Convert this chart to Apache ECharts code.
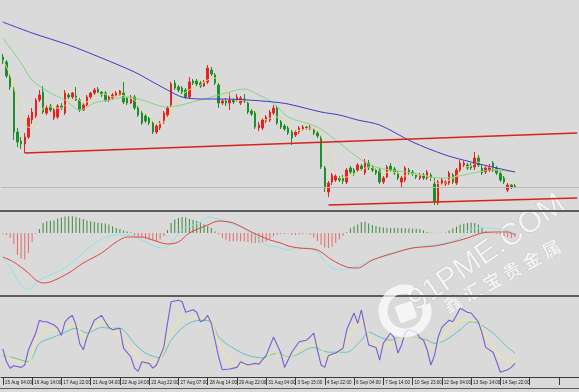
<!DOCTYPE html>
<html><head><meta charset="utf-8">
<script src="https://cdn.jsdelivr.net/npm/echarts/dist/echarts.min.js"></script>
<style>html,body{margin:0;padding:0;background:#dadada;}#c{width:579px;height:392px;}</style>
</head><body><div id="c"></div>
<script>
const tickLabels = ['15 Aug 04:00','16 Aug 14:00','17 Aug 22:00','21 Aug 04:00','22 Aug 14:00','23 Aug 22:00','27 Aug 07:00','28 Aug 14:00','29 Aug 22:00','31 Aug 04:00','3 Sep 15:00','4 Sep 22:00','6 Sep 04:00','7 Sep 14:00','10 Sep 23:00','12 Sep 04:00','13 Sep 14:00','14 Sep 22:00'];

const opens = [
243,238,224,212,168,159,156,163,180,184,
200,208,187,194,182,183,194,187,205,203,
204,200,190,195,203,207,211,208,207,200,
202,204,205,207,202,197,203,192,187,184,
182,177,168,172,178,185,195,217,213,212,
210,203,219,219,217,214,218,230,225,215,
197,199,197,200,200,197,201,197,189,187,
172,172,179,180,187,192,178,174,172,168,
165,168,171,173,171,170,167,163,132,108,
118,120,122,122,118,132,130,130,134,127,
137,133,130,130,118,123,134,131,127,118,
120,130,128,125,122,125,122,125,116,97,
117,116,117,125,117,130,135,135,135,133,
142,132,128,130,137,132,127,122,110,115,
114];
const closes = [
238,224,213,168,158,156,163,182,188,200,
205,188,192,190,190,194,192,207,203,207,
200,190,195,203,207,210,208,205,200,203,
205,207,209,198,197,203,192,185,177,179,
177,168,174,177,187,192,216,212,210,208,
203,218,217,216,214,218,232,226,217,197,
199,197,200,198,203,202,199,188,186,173,
175,180,183,188,192,177,173,171,167,162,
168,172,173,172,173,167,164,133,112,117,
125,124,120,119,130,128,126,135,131,138,
132,130,127,118,122,133,130,127,122,122,
132,127,126,123,125,122,128,122,98,118,
120,118,127,118,130,137,137,132,132,142,
135,127,132,133,130,127,120,118,115,113,
113];
const lows = [
236,222,210,160,153,151,147,161,176,182,
198,186,185,188,180,181,190,185,201,201,
199,188,189,194,201,205,207,203,198,198,
200,203,204,196,195,196,190,183,175,177,
175,166,166,170,176,183,193,210,208,206,
201,201,215,214,212,213,216,224,215,192,
195,194,190,196,198,195,197,186,184,171,
169,170,177,178,185,175,171,169,165,155,
163,166,169,170,170,165,162,131,108,103,
115,118,118,116,116,126,124,128,129,125,
130,128,125,116,116,122,128,125,120,113,
118,125,124,121,120,120,120,119,95,95,
115,114,115,116,115,128,133,130,130,130,
133,125,126,128,128,125,118,116,108,111,
112];
const highs = [
246,240,226,214,172,163,167,185,192,202,
210,214,195,196,192,196,197,210,207,208,
213,202,197,205,208,212,213,209,209,205,
207,209,210,218,204,205,205,194,189,186,
184,179,176,179,189,194,218,220,215,214,
212,223,221,221,219,220,235,233,227,217,
201,202,207,202,206,204,206,199,191,189,
178,182,185,190,195,194,180,176,174,170,
170,174,175,174,175,172,169,165,134,119,
127,126,124,125,132,134,132,137,136,141,
140,135,132,132,124,135,137,133,129,124,
134,132,130,127,127,127,130,127,122,120,
122,120,129,127,132,140,139,137,137,148,
145,135,134,136,139,134,129,124,117,116,
116];

const maLong = [[0,278],[8,267],[18,255],[27,242],[36,228],[40,220],[45,210],[49,203],[54,201],[60,201],[67,200],[74,198],[78,196],[87,188],[92,185],[97,180],[103,175],[112,158],[121,145],[128,138],[135,132],[140,128]];
const maMid = [[0,262],[5,237],[8,220],[13,207],[17,200],[21,190],[25,197],[29,200],[34,203],[38,200],[45,193],[54,200],[60,206],[66,211],[70,205],[74,197],[78,183],[86,173],[92,157],[98,140],[102,133],[106,130],[112,127],[117,123],[121,122],[126,125],[130,128],[134,130],[140,128]];
const maShort = [[0,240],[2,225],[4,200],[6,175],[8,172],[10,185],[12,195],[14,192],[16,192],[18,198],[20,202],[22,197],[24,200],[26,205],[28,206],[30,203],[32,205],[34,203],[36,200],[38,190],[40,183],[42,176],[44,178],[46,188],[48,200],[50,208],[52,212],[54,215],[56,220],[58,222],[60,215],[62,205],[64,199],[66,200],[68,195],[70,185],[72,180],[74,183],[76,183],[78,176],[80,169],[82,170],[84,172],[86,170],[88,155],[90,135],[92,122],[94,123],[96,126],[98,130],[100,133],[102,131],[104,127],[106,128],[108,127],[110,124],[112,126],[114,125],[116,124],[118,119],[120,115],[122,120],[124,124],[126,132],[128,134],[130,138],[132,134],[134,132],[136,128],[138,122],[140,116]];
const trendUpper = [[6,147],[157,167]];
const trendLower = [[89,95],[157,102]];

const macdHist = [
-1,-2,-5,-11,-22,-25.5,-26.5,-20,-9,-1,
4,10,11.7,12.3,12.5,14.5,15.5,16.5,16.7,16.7,
16,15,14,12.5,11.7,11.2,10.3,10,9.5,8.5,
6.8,5,4,2.5,1.5,0.5,-2.5,-3.8,-4.8,-6,
-6.7,-7.3,-8.3,-6.5,-3,3,10,13.5,15,16,
15.5,14,13,12,10.5,8.5,6.7,5,1.5,-1.5,
-5,-6.7,-8.3,-8.3,-8.3,-8.3,-8.5,-9,-10,-10,
-10,-9.3,-8.3,-6.3,-3.3,-1.7,-1,-1,-0.5,-1.7,
-1.7,-1.5,-1,-0.5,-1.7,-4.5,-8,-12,-14.5,-15,
-13.5,-10,-6.5,-2.7,0.8,4.7,6.7,8.5,11,11.2,
9.5,8,7,6,5.5,5.3,5,5,4.7,4.8,
4.8,4.5,4.2,4.2,4,2.8,1,0.3,-0.3,0.3,
0.3,0.5,2.5,4.5,6.5,8.3,9.3,10,10.5,10,
8.5,5.5,2,0.5,-0.5,-1,-1.5,-3,-4,-5,
-4];
const macdMain = [[0,-24],[2,-34],[4,-47],[6,-55],[7,-57],[8,-55],[10,-47],[13,-42],[17,-35],[22,-20],[26,-8],[31,-2],[35,-2],[38,-7],[42,-14],[44,-15],[46,-10],[49,3],[54,11],[56,16],[58,15],[61,11],[65,6],[68,0],[72,-12],[75,-14],[78,-17],[80,-15],[83,-15],[86,-19],[88,-29],[90,-35],[93,-37],[95,-35],[100,-29],[106,-20],[112,-15],[117,-12],[121,-10],[125,-5],[128,4],[133,5],[137,3],[140,0]];
const macdSignal = [[0,-24],[3,-29],[7,-40],[9,-47],[11,-50],[13,-49],[18,-40],[22,-30],[27,-20],[31,-9],[34,-4],[38,-4],[41,-7],[45,-11],[48,-9],[51,0],[56,8],[59,12],[63,10],[68,1],[73,-7],[76,-10],[78,-13],[81,-15],[86,-17],[90,-27],[94,-34],[97,-35],[101,-27],[107,-20],[112,-15],[118,-13],[122,-10],[127,-5],[131,0],[135,1],[138,1],[140,-2]];

const stochK = [[0,35],[1,19],[2,11],[3,14],[5,12],[6,15],[7,34],[9,55],[10,71],[11,69],[12,69],[14,65],[15,61],[16,52],[17,69],[18,74],[19,77],[20,65],[21,42],[22,34],[23,50],[25,71],[27,77],[28,69],[29,62],[30,59],[32,61],[33,36],[35,25],[36,11],[37,7],[38,19],[40,17],[41,11],[42,15],[44,37],[45,67],[46,94],[48,96],[49,94],[50,81],[52,84],[53,81],[54,69],[55,71],[56,77],[57,67],[59,25],[60,9],[62,10],[64,12],[65,19],[66,17],[67,15],[69,17],[70,16],[72,27],[74,50],[76,30],[77,12],[79,31],[81,44],[83,46],[84,50],[85,55],[86,34],[87,15],[88,12],[89,27],[91,30],[93,36],[94,59],[96,80],[97,67],[98,84],[99,62],[100,40],[102,37],[103,21],[104,42],[106,55],[107,49],[108,30],[109,40],[110,56],[111,59],[113,56],[114,49],[115,46],[116,34],[117,15],[118,27],[119,50],[120,62],[122,71],[123,69],[124,77],[125,86],[127,81],[128,80],[130,69],[131,55],[132,37],[134,31],[135,19],[136,6],[138,9],[139,12],[140,17]];
const stochSlow = [[0,31],[3,21],[7,17],[9,46],[12,59],[15,59],[17,62],[20,67],[22,50],[25,62],[27,69],[30,61],[33,46],[36,30],[38,19],[42,19],[45,46],[48,69],[50,75],[54,74],[57,71],[59,42],[63,17],[67,15],[71,19],[74,31],[78,24],[83,40],[86,40],[89,24],[92,31],[96,61],[98,69],[101,46],[104,37],[107,46],[110,50],[114,50],[117,36],[119,42],[122,61],[126,71],[130,69],[132,50],[136,25],[140,19]];
const stochD = [[0,27],[3,24],[7,19],[10,42],[14,50],[17,56],[20,61],[23,55],[27,62],[29,61],[32,61],[36,42],[39,30],[43,24],[46,46],[50,65],[54,71],[57,69],[59,50],[63,36],[67,27],[71,24],[75,30],[78,25],[80,27],[85,37],[89,31],[94,31],[98,46],[100,56],[103,50],[106,46],[109,50],[112,50],[116,46],[118,42],[121,46],[125,59],[128,69],[130,67],[134,55],[138,37],[140,30]];

const N = 158;
const cats = Array.from({length: N}, (_, i) => 'b' + i);
const candles = opens.map((o, i) => [o, closes[i], lows[i], highs[i]]);

const hiddenX = gi => ({type:'category', gridIndex: gi, data: cats, boundaryGap: true, show: false});
const lineS = (data, color, xi, w, smooth) => ({type:'line', xAxisIndex: xi, yAxisIndex: xi, data, symbol:'none', smooth: smooth, lineStyle:{color, width: w}, itemStyle:{color}, silent:true, z: 3});

const wmFill = 'rgba(255,255,255,0.72)';
const wmStroke = 'rgba(170,170,170,0.55)';
const cnChars = '鑫汇宝贵金属'.split('');

const chart = echarts.init(document.getElementById('c'), null, {renderer:'canvas'});
chart.setOption({
  animation: false,
  backgroundColor: '#dadada',
  grid: [
    {left: 1, right: 0, top: 0, height: 210},
    {left: 1, right: 0, top: 213, height: 82},
    {left: 1, right: 0, top: 297, height: 80}
  ],
  xAxis: [hiddenX(0), hiddenX(1), {
    type:'category', gridIndex: 2, data: cats, boundaryGap: true,
    axisLine:{show:true, lineStyle:{color:'#3a3a3a', width:1}},
    axisTick:{show:true, interval:7, alignWithLabel:true, length:8, lineStyle:{color:'#3a3a3a'}},
    axisLabel:{show:true, interval:7, align:'left', margin:3, fontSize:4.6, color:'#222', fontFamily:'Liberation Sans', padding:[0,0,0,2],
      formatter:(v, idx) => tickLabels[idx / 8] || ''},
    splitLine:{show:false}
  }],
  yAxis: [
    {type:'value', gridIndex:0, min:90, max:300, show:false},
    {type:'value', gridIndex:1, min:-62, max:20, show:false},
    {type:'value', gridIndex:2, min:0, max:100, show:false}
  ],
  series: [
    {type:'candlestick', xAxisIndex:0, yAxisIndex:0, data: candles, barWidth: 2,
      itemStyle:{color:'#e8221e', color0:'#1d8f2b', borderColor:'#e8221e', borderColor0:'#1d8f2b', borderWidth:1},
      markLine:{silent:true, symbol:'none', label:{show:false}, lineStyle:{color:'#b9b9b9', width:1, type:'solid'},
        data:[{yAxis: closes[closes.length - 1]}]}},
    lineS(maShort, '#ecd98c', 0, 1, 0.3),
    lineS(maMid, '#86d486', 0, 1, 0.3),
    lineS(maLong, '#3c3cc8', 0, 1, 0.3),
    lineS(trendUpper, '#d8221c', 0, 1.6, false),
    lineS(trendLower, '#d8221c', 0, 1.6, false),
    {type:'bar', xAxisIndex:1, yAxisIndex:1, barWidth:1, silent:true,
      data: macdHist.map(v => ({value: v, itemStyle:{color: v >= 0 ? '#3f8a3f' : '#e46a6a'}}))},
    lineS(macdMain, '#8de4e4', 1, 1, 0.3),
    lineS(macdSignal, '#e04444', 1, 1, 0.3),
    lineS(stochD, '#62c2c0', 2, 1, 0.3),
    lineS(stochSlow, '#ece79a', 2, 1.2, 0.3),
    lineS(stochK, '#7b5cd2', 2, 1.1, false)
  ],
  graphic: [
    {type:'rect', shape:{x:0, y:210, width:579, height:2}, style:{fill:'#5c5c5c'}, z:50, silent:true},
    {type:'rect', shape:{x:0, y:295, width:579, height:2}, style:{fill:'#5c5c5c'}, z:50, silent:true},
    {type:'rect', shape:{x:0, y:388, width:579, height:1}, style:{fill:'#5c5c5c'}, z:50, silent:true},
    {type:'arc', shape:{cx:405, cy:311, r:22, startAngle:-0.3, endAngle:5.05}, style:{stroke:wmFill, lineWidth:9, fill:null}, z:100, silent:true},
    {type:'rect', x:406, y:312, rotation:0.35, shape:{x:-9, y:-9, width:18, height:18, r:2}, style:{fill:wmFill}, z:100, silent:true},
    {type:'group', x:487, y:253, rotation:0.6, z:100, silent:true, children:[
      {type:'text', style:{text:'91PME.COM', x:0, y:0, align:'center', verticalAlign:'middle', fontSize:31, fontFamily:'Liberation Sans', fill:wmFill, stroke:wmStroke, lineWidth:0.8}}
    ]},
    {type:'group', x:502, y:276, rotation:0.5, z:100, silent:true,
      children: cnChars.map((ch, k) => ({type:'text', style:{text:ch, x:(k - 2.5) * 22.5, y:0, align:'center', verticalAlign:'middle', fontSize:18, fontWeight:'bold', fontFamily:'Noto Sans CJK SC', fill:wmFill, stroke:wmStroke, lineWidth:0.6}}))}
  ]
});
</script>
</body></html>
